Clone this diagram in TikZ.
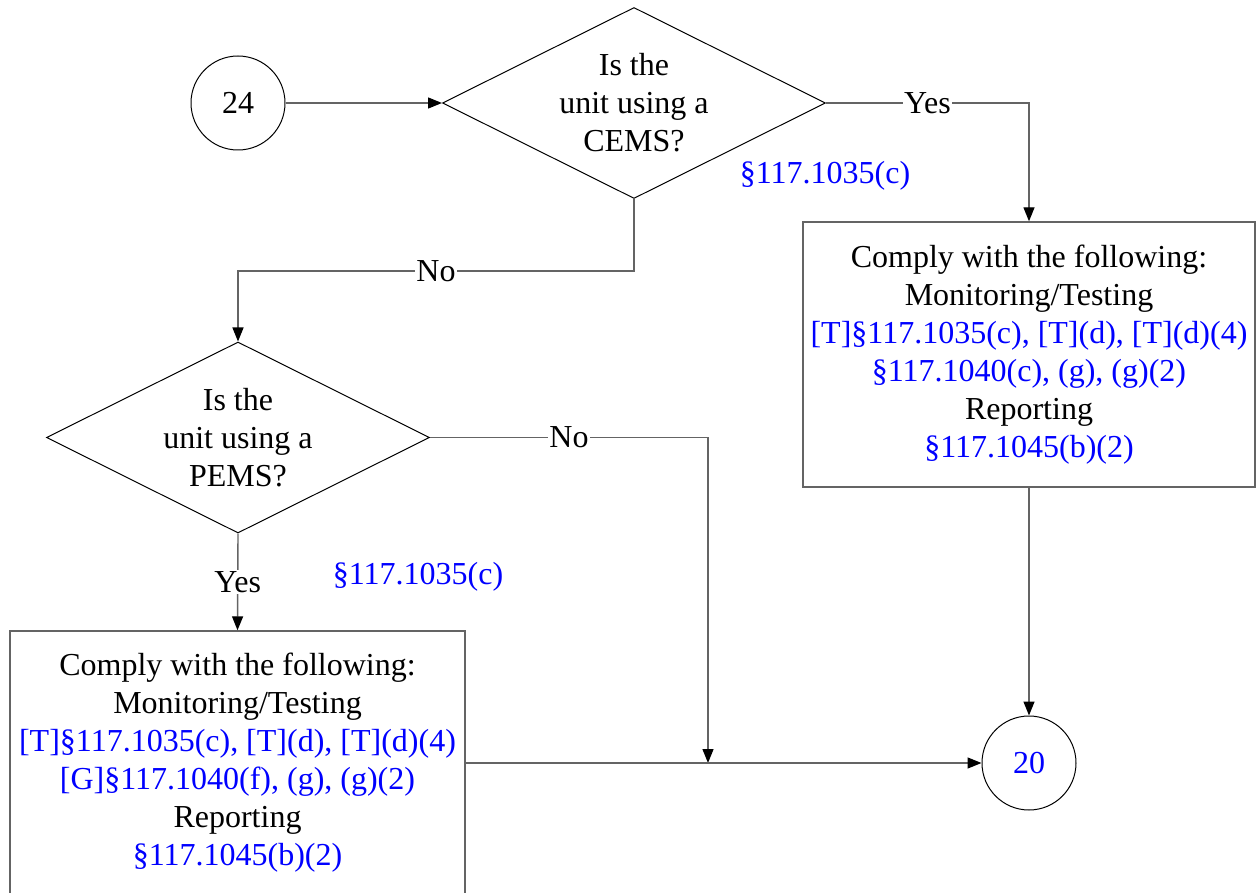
\documentclass[tikz,border=0pt]{standalone}
\usepackage{fontspec}
\setmainfont{Liberation Serif}
\usetikzlibrary{shapes.geometric,arrows.meta}
\definecolor{refblue}{RGB}{0,0,255}
\definecolor{linegray}{RGB}{100,100,100}
\begin{document}
\begin{tikzpicture}[x=1pt,y=-1pt,
  every node/.style={font=\fontsize{32pt}{38pt}\selectfont},
  decision/.style={draw=black,line width=1pt,shape=diamond,aspect=2,inner sep=0pt,
    minimum width=383pt,minimum height=191pt,align=center},
  connector/.style={draw=black,line width=1pt,circle,inner sep=0pt,minimum size=94pt},
  actionbox/.style={draw=linegray,line width=1.4pt,rectangle,inner sep=0pt,align=center},
  flow/.style={draw=linegray,line width=1.4pt},
  arrowflow/.style={flow,-{Triangle[length=14pt,width=11pt,color=black]}},
  branch/.style={fill=white,inner sep=1pt},
  ref/.style={text=refblue}]
\useasboundingbox (0,0) rectangle (1256,893);
\clip (0,0) rectangle (1256,893);

% Nodes
\node[connector] (c24) at (238,103) {24};
\node[decision] (d1) at (634,103) {Is the\\unit using a\\CEMS?};
\node[ref] (r1) at (825,176) {§117.1035(c)};
\node[actionbox,minimum width=452pt,minimum height=265pt] (boxR) at (1029,354.5)
  {Comply with the following:\\
   Monitoring/Testing\\
   \textcolor{refblue}{[T]§117.1035(c), [T](d), [T](d)(4)}\\
   \textcolor{refblue}{§117.1040(c), (g), (g)(2)}\\
   Reporting\\
   \textcolor{refblue}{§117.1045(b)(2)}};
\node[decision] (d2) at (238,437.5) {Is the\\unit using a\\PEMS?};
\node[ref] (r2) at (418,577) {§117.1035(c)};
\node[actionbox,minimum width=455pt,minimum height=264pt] (boxL) at (237.5,763)
  {Comply with the following:\\
   Monitoring/Testing\\
   \textcolor{refblue}{[T]§117.1035(c), [T](d), [T](d)(4)}\\
   \textcolor{refblue}{[G]§117.1040(f), (g), (g)(2)}\\
   Reporting\\
   \textcolor{refblue}{§117.1045(b)(2)}};
\node[connector,text=refblue] (c20) at (1029,763) {20};
\coordinate (join) at (708,763);

% Connectors
\draw[arrowflow] (c24) -- (d1.west);
\draw[arrowflow] (d1.east) -| node[branch,pos=0.25] {Yes} (boxR.north);
\draw[arrowflow] (boxR.south) -- (c20.north);
\draw[arrowflow] (d1.south) -- ++(0,72) -| node[branch,pos=0.25] {No} (d2.north);
\draw[arrowflow] (d2.east) -| node[branch,pos=0.25] {No} (join);
\draw[arrowflow] (d2.south) -- node[branch] {Yes} (boxL.north);
\draw[arrowflow] (boxL.east) -- (c20.west);
\end{tikzpicture}
\end{document}
